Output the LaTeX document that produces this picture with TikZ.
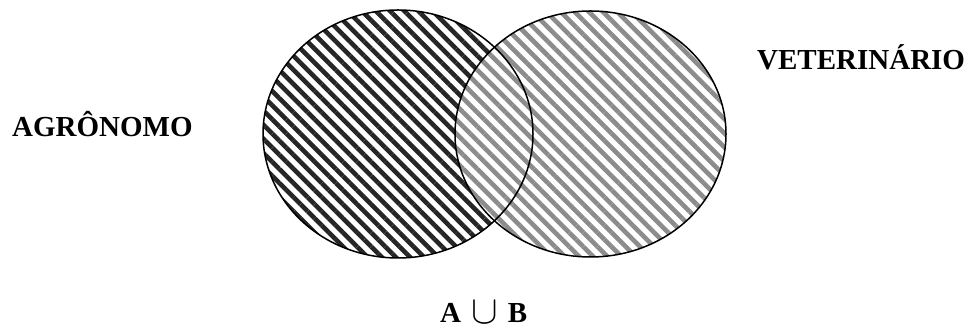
\documentclass[tikz,border=0pt]{standalone}
\usepackage{fontspec}
\setmainfont{Liberation Serif}
\usetikzlibrary{patterns.meta}

\tikzset{
  conjunto/.style={line width=1.5pt},
  rotulo/.style={font=\fontsize{29}{34}\selectfont\bfseries, inner sep=0pt, anchor=base west},
  listras/.style={pattern={Lines[angle=-45, distance=10pt, line width=4.6pt]}, pattern color=#1},
}

\begin{document}
\begin{tikzpicture}[x=1pt, y=1pt]
  \useasboundingbox (0,0) rectangle (972,328);
  \fill[listras=black!85] (398,194) ellipse [x radius=135, y radius=124];
  \fill[white] (590.5,194) ellipse [x radius=135.5, y radius=123];
  \fill[listras=black!45] (590.5,194) ellipse [x radius=135.5, y radius=123];
  \draw[conjunto] (398,194) ellipse [x radius=135, y radius=124];
  \draw[conjunto] (590.5,194) ellipse [x radius=135.5, y radius=123];
  \node[rotulo] (agro) at (12,191) {AGRÔNOMO};
  \node[rotulo] (vet) at (757,258) {VETERINÁRIO};
  \node[rotulo] (uniao) at (440,5) {A\hspace{0.35em}\raisebox{-1pt}{\scalebox{1.6}{$\cup$}}\hspace{0.35em}B};
\end{tikzpicture}
\end{document}
